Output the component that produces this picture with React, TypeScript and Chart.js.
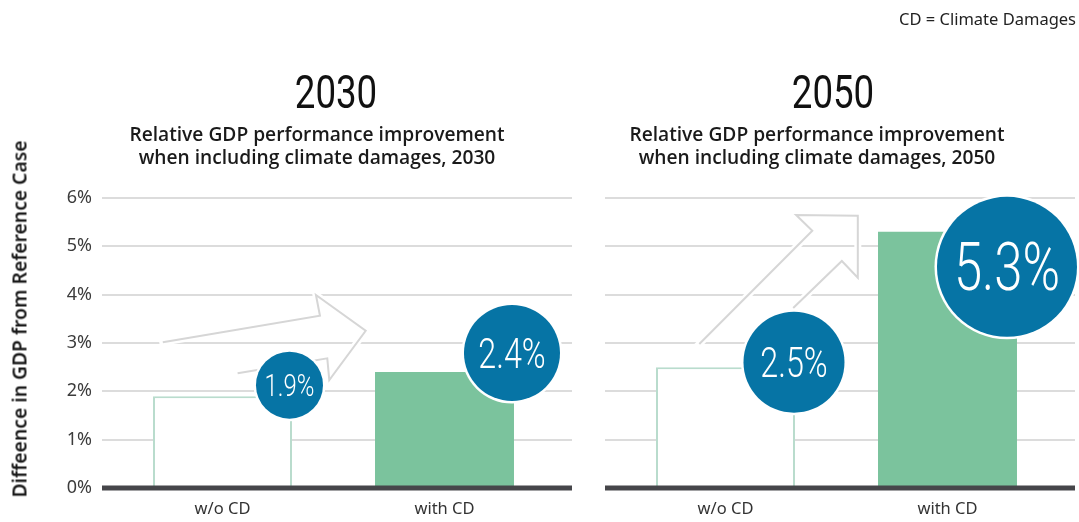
import React, { useEffect, useRef } from 'react';
import { Chart, registerables } from 'chart.js';

Chart.register(...registerables);

// ---------- data ----------
const categories = ['w/o CD', 'with CD'];
const panelYears = ['2030', '2050'];
const values2030 = [1.9, 2.4];
const values2050 = [2.5, 5.3];
const yMin = 0;
const yMax = 6;
const yStep = 1;
const subtitleLine1 = 'Relative GDP performance improvement';
const subtitleLine2 = 'when including climate damages, ';
const yAxisTitle = 'Diffeence in GDP from Reference Case';
const legendNote = 'CD = Climate Damages';

// ---------- styling ----------
const GRID = '#dcdcdc';
const ZERO = '#46464a';
const GREEN = '#7bc39d';
const OUTLINE = '#b9dccd';
const BLUE = '#0674a5';
const ARROW = '#d6d6d6';

// bubble placement relative to each bar's right edge/top (px) and size
const bubbles2030 = [
  { dx: -2.5, dy: -11, r: 33.5, fs: 31 },
  { dx: -2, dy: -19, r: 48, fs: 42 },
];
const bubbles2050 = [
  { dx: -1, dy: -5, r: 50.5, fs: 42 },
  { dx: -10, dy: 35, r: 70, fs: 66 },
];
// decorative arrow outlines in scale units (category index, percent)
const arrow2030 = [
  [-0.269, 3.014], [0.439, 3.565], [0.421, 3.993], [0.645, 3.254],
  [0.481, 2.234], [0.472, 2.683], [0.068, 2.373],
];
const arrow2050 = [
  [-0.118, 2.979], [0.391, 5.323], [0.318, 5.648], [0.596, 5.633],
  [0.596, 4.35], [0.524, 4.696], [0.305, 3.724],
];

type BubbleStyle = { dx: number; dy: number; r: number; fs: number };

function Panel(props: {
  values: number[];
  bubbles: BubbleStyle[];
  arrow: number[][];
  showYLabels: boolean;
  left: number;
  width: number;
}) {
  const ref = useRef<HTMLCanvasElement | null>(null);
  useEffect(() => {
    const canvas = ref.current;
    if (!canvas) return;
    const { values, bubbles, arrow, showYLabels, width } = props;
    const decor = {
      id: 'decor',
      beforeDatasetsDraw(chart: any) {
        const { ctx, chartArea, scales } = chart;
        const x = scales.x;
        const y = scales.y;
        const L = chartArea.left - 9.5;
        const R = chartArea.right + 16.5;
        ctx.save();
        ctx.strokeStyle = GRID;
        ctx.lineWidth = 2;
        y.ticks.forEach((t: any) => {
          if (t.value === 0) return;
          const py = Math.round(y.getPixelForValue(t.value));
          ctx.beginPath();
          ctx.moveTo(L, py);
          ctx.lineTo(R, py);
          ctx.stroke();
        });
        const pts = arrow.map(([u, v]) => [x.getPixelForValue(u), y.getPixelForValue(v)]);
        const path = () => {
          ctx.beginPath();
          pts.forEach(([px, py], i) => (i === 0 ? ctx.moveTo(px, py) : ctx.lineTo(px, py)));
        };
        ctx.lineJoin = 'miter';
        ctx.lineCap = 'square';
        ctx.strokeStyle = '#ffffff';
        ctx.lineWidth = 7;
        path();
        ctx.stroke();
        ctx.lineCap = 'butt';
        ctx.strokeStyle = ARROW;
        ctx.lineWidth = 2;
        path();
        ctx.stroke();
        ctx.restore();
      },
      afterDatasetsDraw(chart: any) {
        const { ctx, chartArea, scales } = chart;
        const y = scales.y;
        const L = chartArea.left - 9.5;
        const R = chartArea.right + 16.5;
        ctx.save();
        ctx.strokeStyle = ZERO;
        ctx.lineWidth = 5;
        const y0 = y.getPixelForValue(0);
        ctx.beginPath();
        ctx.moveTo(L, y0);
        ctx.lineTo(R, y0);
        ctx.stroke();
        const meta = chart.getDatasetMeta(0);
        meta.data.forEach((bar: any, i: number) => {
          const b = bubbles[i];
          const cx = bar.x + bar.width / 2 + b.dx;
          const cy = y.getPixelForValue(values[i]) + b.dy;
          ctx.beginPath();
          ctx.arc(cx, cy, b.r + 2.5, 0, Math.PI * 2);
          ctx.fillStyle = '#ffffff';
          ctx.fill();
          ctx.beginPath();
          ctx.arc(cx, cy, b.r, 0, Math.PI * 2);
          ctx.fillStyle = BLUE;
          ctx.fill();
          ctx.save();
          ctx.translate(cx, cy + 0.711 * b.fs / 2);
          ctx.scale(0.77, 1);
          ctx.fillStyle = '#ffffff';
          ctx.font = `300 ${b.fs}px Roboto`;
          ctx.textAlign = 'center';
          ctx.textBaseline = 'alphabetic';
          ctx.fillText(values[i].toFixed(1) + '%', 0, 0);
          ctx.restore();
        });
        ctx.restore();
      },
    };
    const chart = new Chart(canvas, {
      type: 'bar',
      data: {
        labels: categories,
        datasets: [
          {
            data: values,
            backgroundColor: ['#ffffff', GREEN],
            borderColor: [OUTLINE, GREEN],
            borderWidth: [2, 0] as any,
            borderSkipped: 'bottom',
            barPercentage: 0.626,
            categoryPercentage: 1,
          },
        ],
      },
      options: {
        animation: false,
        responsive: false,
        maintainAspectRatio: false,
        events: [],
        layout: { padding: { top: 198, right: width - 555.5, left: 0, bottom: 0 } },
        plugins: { legend: { display: false }, tooltip: { enabled: false }, title: { display: false } },
        scales: {
          x: {
            type: 'category',
            offset: true,
            grid: { display: false, drawTicks: false },
            border: { display: false },
            ticks: { font: { family: 'Noto Sans', size: 16.5 }, color: '#333333', padding: 11 },
            afterFit: (s: any) => {
              s.height = 34;
            },
          },
          y: {
            min: yMin,
            max: yMax,
            grid: { display: false, drawTicks: false },
            border: { display: false },
            ticks: {
              display: showYLabels,
              stepSize: yStep,
              callback: (v: any) => v + '%',
              font: { family: 'Noto Sans', size: 18 },
              color: '#3c3c3c',
              padding: 19.5,
            },
            afterFit: (s: any) => {
              s.width = 111.5;
            },
          },
        },
      },
      plugins: [decor],
    });
    return () => chart.destroy();
  }, []);
  return (
    <canvas
      ref={ref}
      width={props.width}
      height={522}
      style={{ position: 'absolute', left: props.left, top: 0, width: props.width, height: 522 }}
    />
  );
}

const titleCenters = [335.5, 832.5];
const subtitleCenters = [317, 817];

export default function App() {
  useEffect(() => {
    document.body.style.margin = '0';
    document.body.style.overflow = 'hidden';
  }, []);
  return (
    <div style={{ position: 'absolute', left: 0, top: 0, width: 1079, height: 522, background: '#fff', overflow: 'hidden' }}>
      <Panel values={values2030} bubbles={bubbles2030} arrow={arrow2030} showYLabels={true} left={0} width={590} />
      <Panel values={values2050} bubbles={bubbles2050} arrow={arrow2050} showYLabels={false} left={503} width={576} />
      {panelYears.map((yr, i) => (
        <React.Fragment key={yr}>
          <div
            style={{
              position: 'absolute', left: titleCenters[i] - 150, width: 300, top: 67.5, textAlign: 'center',
              fontFamily: 'Roboto', fontSize: 47, lineHeight: '47px', color: '#111', transform: 'scaleX(0.78)',
            }}
          >
            {yr}
          </div>
          <div
            style={{
              position: 'absolute', left: subtitleCenters[i] - 250, width: 500, top: 122, textAlign: 'center',
              fontFamily: 'Open Sans', fontWeight: 600, fontSize: 19.2, lineHeight: '23px', color: '#1a1a1a',
            }}
          >
            {subtitleLine1}
            <br />
            {subtitleLine2 + yr}
          </div>
        </React.Fragment>
      ))}
      <div
        style={{
          position: 'absolute', right: 3, top: 8.6, fontFamily: 'Noto Sans', fontSize: 16.5, lineHeight: '20px',
          color: '#222', whiteSpace: 'nowrap',
        }}
      >
        {legendNote}
      </div>
      <div
        style={{
          position: 'absolute', left: 19, top: 318.5, transform: 'translate(-50%, -50%) rotate(-90deg)',
          fontFamily: 'Noto Sans', fontWeight: 600, fontSize: 19.3, color: '#1a1a1a', whiteSpace: 'nowrap',
        }}
      >
        {yAxisTitle}
      </div>
    </div>
  );
}
